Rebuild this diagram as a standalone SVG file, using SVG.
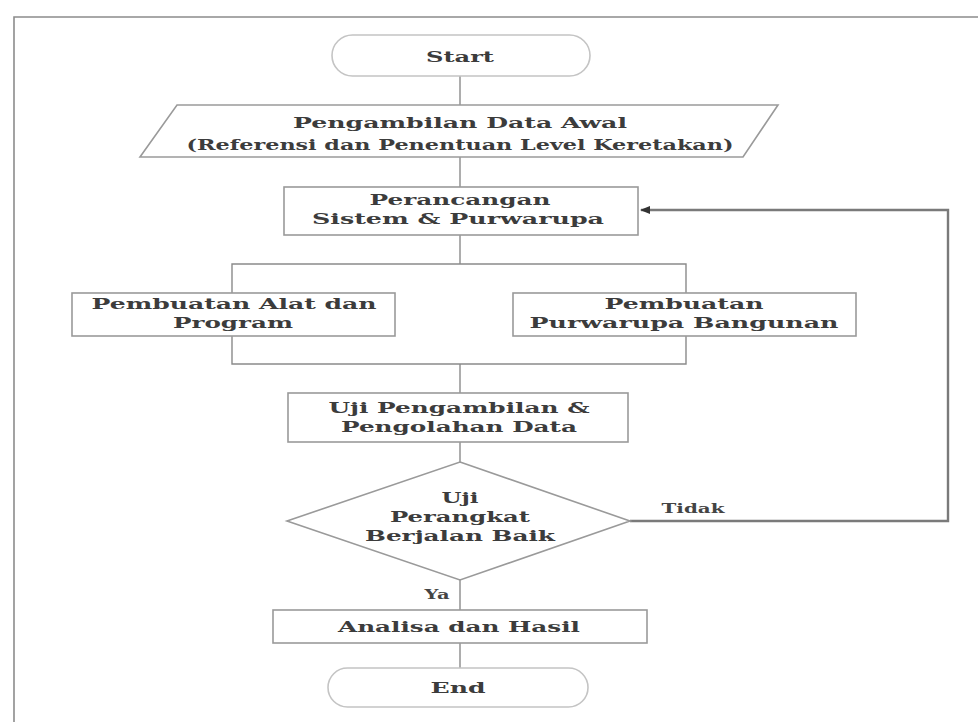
<svg xmlns="http://www.w3.org/2000/svg" width="978" height="722" viewBox="0 0 978 722">
<style>
.box{fill:#fff;stroke:#9a9a9a;stroke-width:1.6}
.term{fill:#fff;stroke:#c4c4c4;stroke-width:1.6}
.ln{fill:none;stroke:#8a8a8a;stroke-width:1.4}
.fb{fill:none;stroke:#7a7a7a;stroke-width:2.4}
.t{font-family:"DejaVu Serif","Liberation Serif",serif;font-weight:bold;font-size:15px;fill:#3c3c3c;text-anchor:middle}
.s{font-family:"DejaVu Serif","Liberation Serif",serif;font-weight:bold;font-size:12px;fill:#444;text-anchor:middle}
</style>
<defs>
<marker id="ah" markerWidth="10" markerHeight="8" refX="9" refY="4" orient="auto" markerUnits="userSpaceOnUse">
<path d="M0,0 L10,4 L0,8 Z" fill="#333"/>
</marker>
</defs>
<rect width="978" height="722" fill="#fff"/>
<path d="M14,722 V17 H978" fill="none" stroke="#8c8c8c" stroke-width="1.6"/>

<g id="connectors">
<line class="ln" x1="460" y1="76" x2="460" y2="105"/>
<line class="ln" x1="460" y1="157" x2="460" y2="187"/>
<line class="ln" x1="460" y1="235" x2="460" y2="264"/>
<path class="ln" d="M232,293 V264 H686 V293"/>
<path class="ln" d="M232,336 V364 H686 V336"/>
<line class="ln" x1="460" y1="364" x2="460" y2="393"/>
<line class="ln" x1="460" y1="442" x2="460" y2="462"/>
<line class="ln" x1="460" y1="580" x2="460" y2="610"/>
<line class="ln" x1="460" y1="643" x2="460" y2="668"/>
<path class="fb" d="M630,521 H948 V210 H641" marker-end="url(#ah)"/>
<text class="s" x="693" y="513" textLength="63" lengthAdjust="spacingAndGlyphs">Tidak</text>
<text class="s" x="437" y="599" textLength="25" lengthAdjust="spacingAndGlyphs">Ya</text>
</g>

<g id="start">
<rect class="term" x="332" y="35" width="258" height="41" rx="20.5"/>
<text class="t" x="460" y="62" textLength="68" lengthAdjust="spacingAndGlyphs">Start</text>
</g>

<g id="data-awal">
<polygon class="box" points="177,105 778,105 743,157 140,157"/>
<text class="t" x="460" y="128" textLength="334" lengthAdjust="spacingAndGlyphs">Pengambilan Data Awal</text>
<text class="t" x="460" y="150" textLength="547" lengthAdjust="spacingAndGlyphs">(Referensi dan Penentuan Level Keretakan)</text>
</g>

<g id="perancangan">
<rect class="box" x="284" y="187" width="354" height="48"/>
<text class="t" x="460" y="205" textLength="181" lengthAdjust="spacingAndGlyphs">Perancangan</text>
<text class="t" x="458" y="224" textLength="292" lengthAdjust="spacingAndGlyphs">Sistem &amp; Purwarupa</text>
</g>

<g id="alat-program">
<rect class="box" x="72" y="293" width="323" height="43"/>
<text class="t" x="234" y="309" textLength="285" lengthAdjust="spacingAndGlyphs">Pembuatan Alat dan</text>
<text class="t" x="233" y="328" textLength="120" lengthAdjust="spacingAndGlyphs">Program</text>
</g>

<g id="purwarupa-bangunan">
<rect class="box" x="513" y="293" width="343" height="43"/>
<text class="t" x="684" y="309" textLength="159" lengthAdjust="spacingAndGlyphs">Pembuatan</text>
<text class="t" x="684" y="328" textLength="309" lengthAdjust="spacingAndGlyphs">Purwarupa Bangunan</text>
</g>

<g id="uji-pengambilan">
<rect class="box" x="288" y="393" width="340" height="49"/>
<text class="t" x="459" y="413" textLength="261" lengthAdjust="spacingAndGlyphs">Uji Pengambilan &amp;</text>
<text class="t" x="459" y="432" textLength="236" lengthAdjust="spacingAndGlyphs">Pengolahan Data</text>
</g>

<g id="uji-perangkat">
<polygon class="box" points="460,462 630,521 460,580 287,521"/>
<text class="t" x="460" y="503" textLength="37" lengthAdjust="spacingAndGlyphs">Uji</text>
<text class="t" x="460" y="522" textLength="140" lengthAdjust="spacingAndGlyphs">Perangkat</text>
<text class="t" x="460" y="541" textLength="190" lengthAdjust="spacingAndGlyphs">Berjalan Baik</text>
</g>

<g id="analisa">
<rect class="box" x="273" y="610" width="374" height="33"/>
<text class="t" x="459" y="632" textLength="242" lengthAdjust="spacingAndGlyphs">Analisa dan Hasil</text>
</g>

<g id="end">
<rect class="term" x="328" y="668" width="260" height="39" rx="19.5"/>
<text class="t" x="458" y="693" textLength="55" lengthAdjust="spacingAndGlyphs">End</text>
</g>
</svg>
